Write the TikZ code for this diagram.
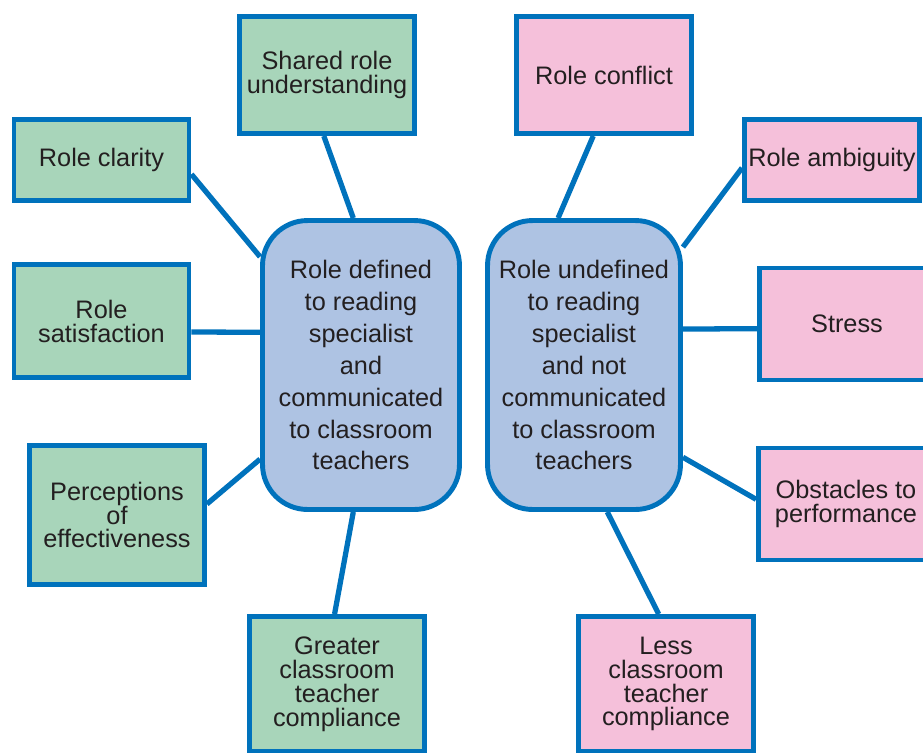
\documentclass[tikz,border=0pt]{standalone}
\usepackage{fontspec}
\setmainfont{Liberation Sans}
\usetikzlibrary{backgrounds}

\definecolor{rimblue}{HTML}{0072BC}
\definecolor{leafgreen}{HTML}{A8D5BA}
\definecolor{leafpink}{HTML}{F5C0DA}
\definecolor{hubblue}{HTML}{AEC3E3}
\definecolor{ink}{HTML}{231F20}

\begin{document}
\begin{tikzpicture}[x=0.02cm,y=-0.02cm,
	leaf/.style={draw=rimblue,line width=2.8pt,rectangle,minimum width=3.5cm,inner sep=1pt,
		align=center,text=ink,font=\fontsize{14.4}{13.6}\selectfont},
	good/.style={leaf,fill=leafgreen},
	bad/.style={leaf,fill=leafpink},
	hub/.style={draw=rimblue,line width=2.8pt,fill=hubblue,rounded corners=0.9cm,minimum height=5.78cm,
		align=center,text=ink,font=\fontsize{14.4}{18.2}\selectfont},
	link/.style={draw=rimblue,line width=3pt}]
	\useasboundingbox (0,0) rectangle (923,752);
	\clip (0,0) rectangle (923,752);

	% the two hubs
	\node[hub,minimum width=3.94cm] (defined) at (361,365) {Role defined\\to reading\\specialist\\and\\communicated\\to classroom\\teachers};
	\node[hub,minimum width=3.86cm] (undefined) at (584,365) {Role undefined\\to reading\\specialist\\and not\\communicated\\to classroom\\teachers};

	% outcomes of a defined role
	\node[good,minimum height=1.62cm] (clarity) at (101.5,160) {Role clarity};
	\node[good,minimum height=2.34cm] (shared) at (327,75) {Shared role\\understanding};
	\node[good,minimum height=2.26cm] (satisf) at (101.5,321) {Role\\satisfaction};
	\node[good,minimum height=2.78cm] (percep) at (117,515) {Perceptions\\of\\effectiveness};
	\node[good,minimum height=2.70cm] (greater) at (337,684) {Greater\\classroom\\teacher\\compliance};

	% outcomes of an undefined role
	\node[bad,minimum height=2.34cm] (conflict) at (604,75) {Role conflict};
	\node[bad,minimum height=1.62cm] (ambig) at (832,160) {Role ambiguity};
	\node[bad,minimum height=2.24cm] (stress) at (847,324) {Stress};
	\node[bad,minimum height=2.24cm] (obstacles) at (846,504) {Obstacles to\\performance};
	\node[bad,minimum height=2.70cm] (less) at (666,684) {Less\\classroom\\teacher\\compliance};

	\begin{scope}[on background layer]
		\path[link] (clarity.-9.4) edge (defined.133.1)
			(shared.-93.8) edge (defined.93.6)
			(satisf.-7.5) edge (defined.162.5)
			(percep.7.6) edge (defined.223.2)
			(greater.92.5) edge (defined.-93.5);
		\path[link] (conflict.-100.2) edge (undefined.100.5)
			(ambig.185.1) edge (undefined.50)
			(stress.183.3) edge (undefined.20)
			(obstacles.177.4) edge (undefined.-43.2)
			(less.96.6) edge (undefined.-81.9);
	\end{scope}
\end{tikzpicture}
\end{document}
